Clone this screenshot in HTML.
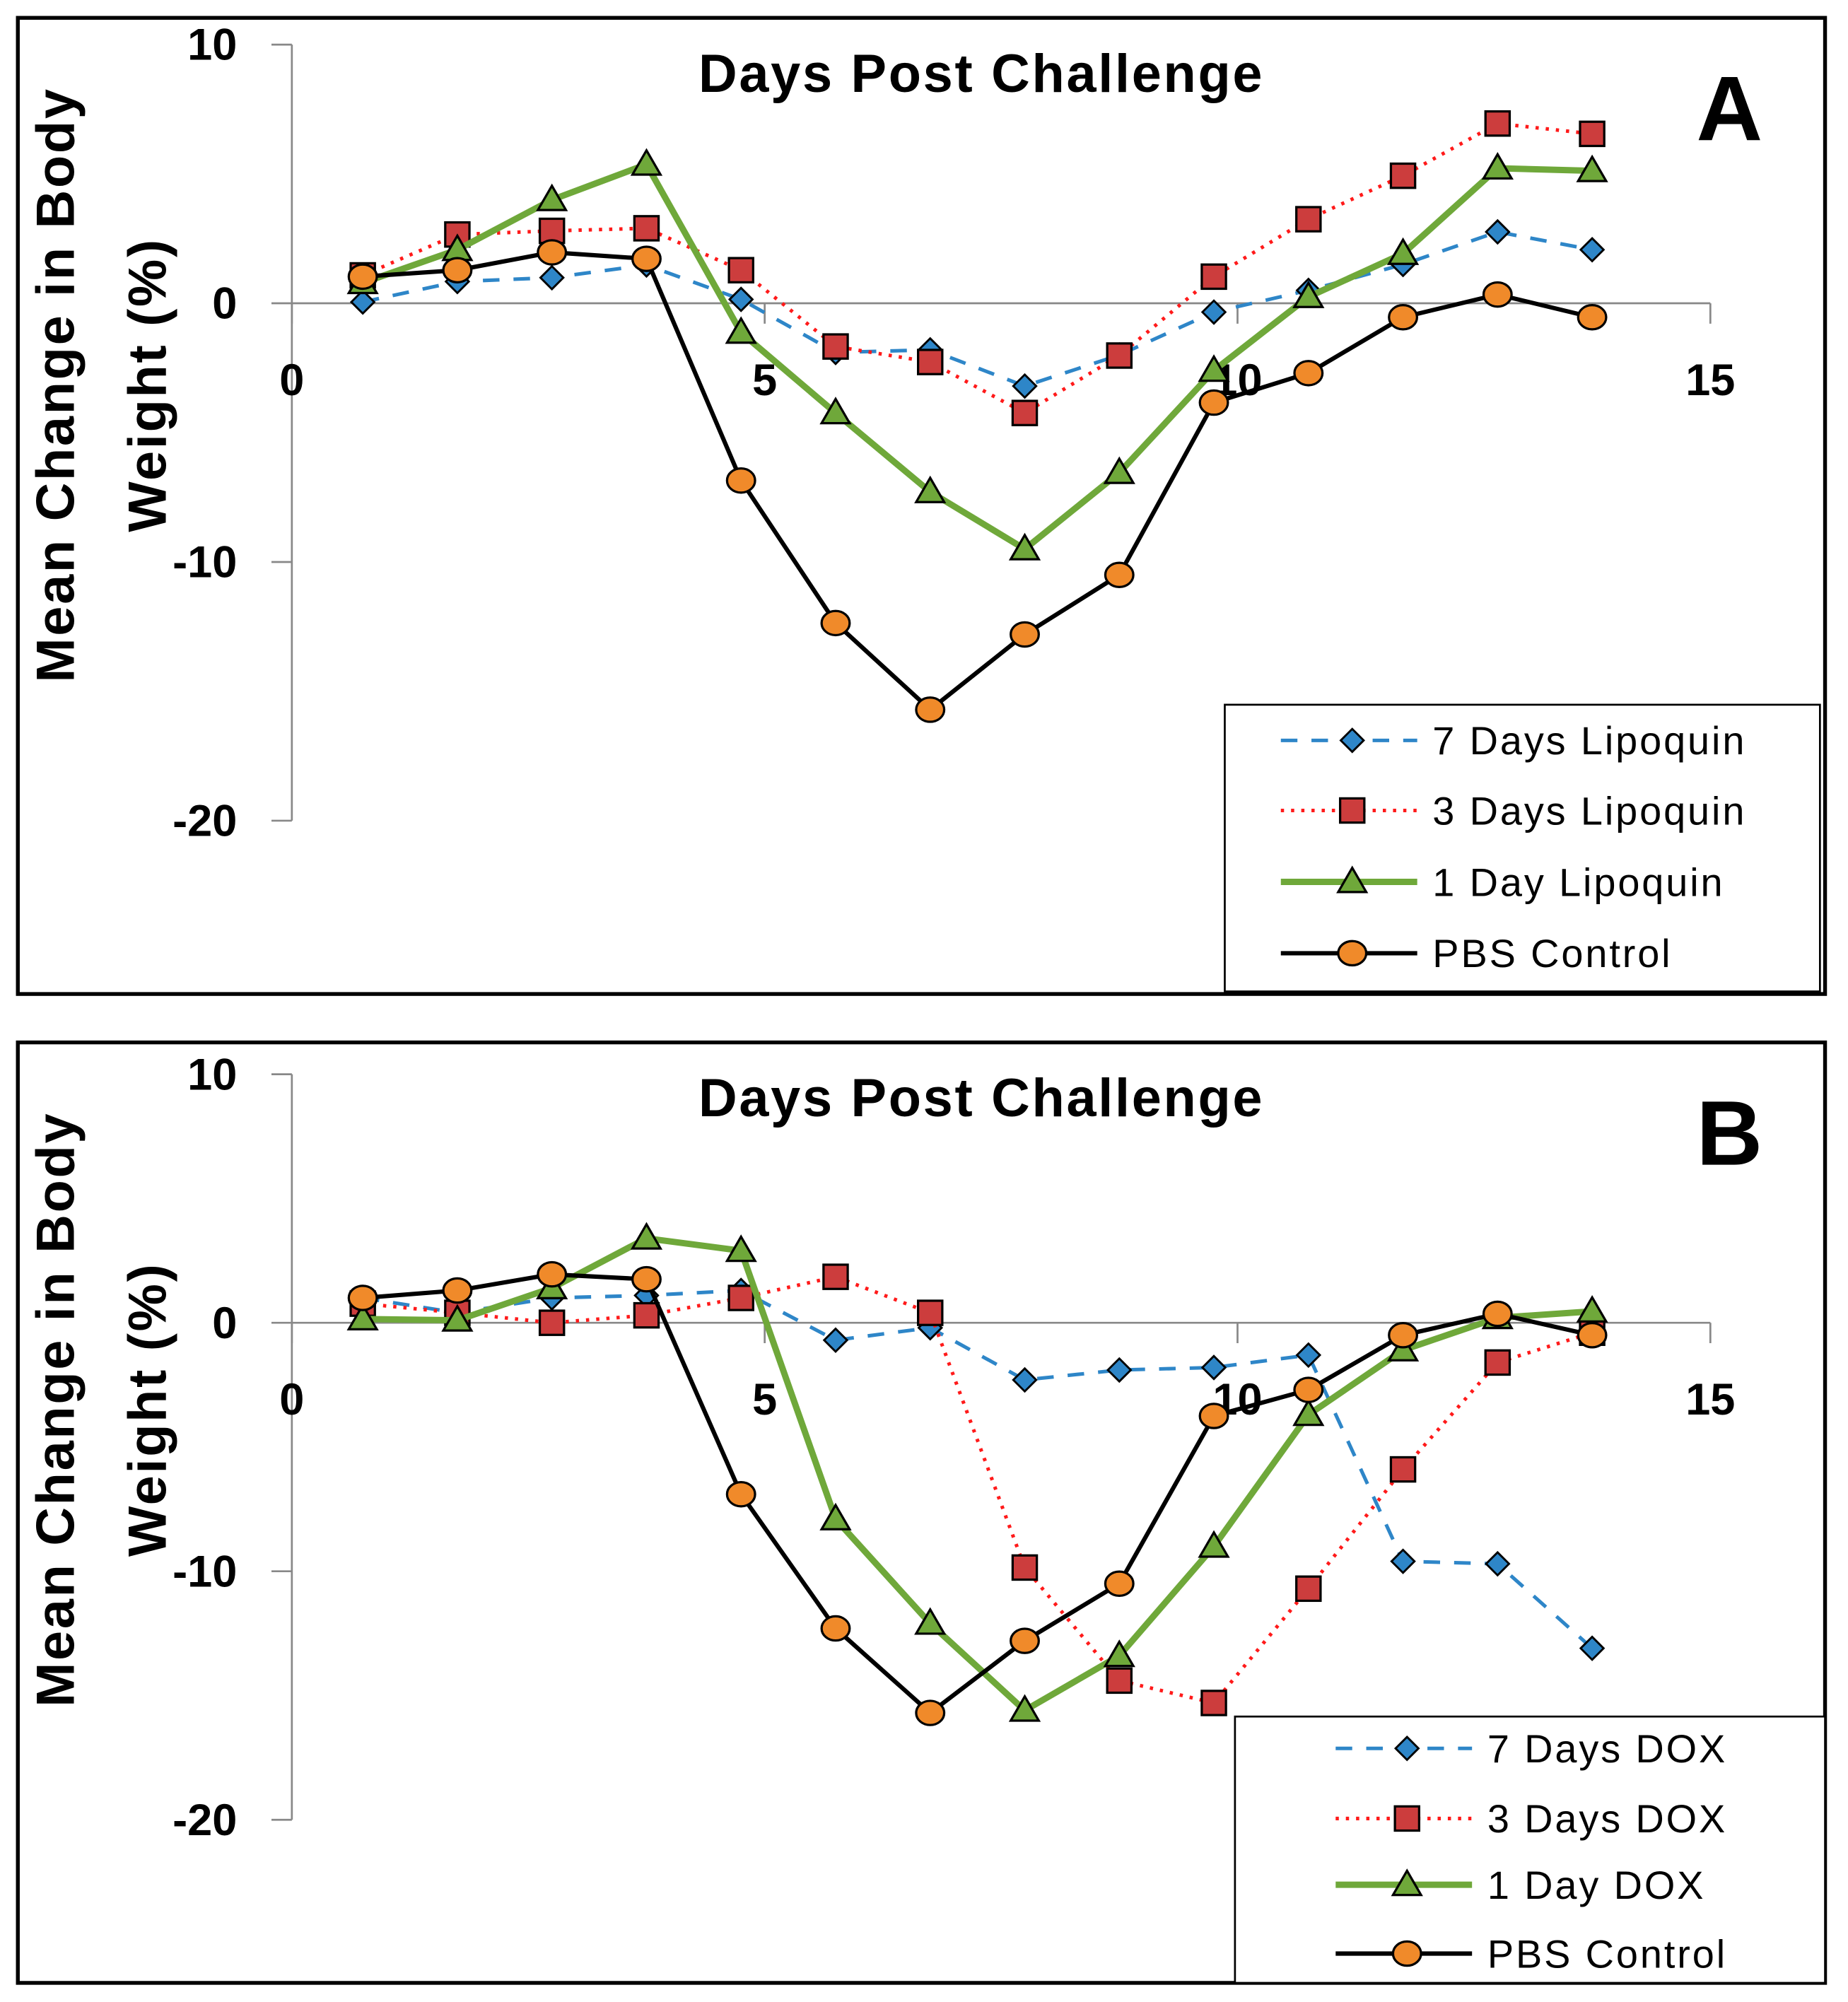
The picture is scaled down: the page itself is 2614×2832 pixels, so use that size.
<!DOCTYPE html>
<html><head><meta charset="utf-8"><style>
html,body{margin:0;padding:0;background:#fff;}
svg{display:block;}
text{font-family:"Liberation Sans",sans-serif;}
</style></head><body>
<svg id="fig" width="2614" height="2832" viewBox="0 0 1450 1571" preserveAspectRatio="none" xmlns="http://www.w3.org/2000/svg"></svg>
<script>
const days = [0.75,1.75,2.75,3.75,4.75,5.75,6.75,7.75,8.75,9.75,10.75,11.75,12.75,13.75];
const xTicks = [0,5,10,15];
const yTicks = [10,0,-10,-20];
const seriesNamesA = ["7 Days Lipoquin","3 Days Lipoquin","1 Day Lipoquin","PBS Control"];
const seriesNamesB = ["7 Days DOX","3 Days DOX","1 Day DOX","PBS Control"];
const a7 = [0.05,0.84,0.99,1.48,0.15,-1.9,-1.8,-3.2,-2.0,-0.34,0.5,1.5,2.76,2.07];
const a3 = [1.08,2.66,2.8,2.9,1.28,-1.67,-2.27,-4.24,-2.02,1.03,3.25,4.93,6.95,6.55];
const a1 = [0.79,2.07,4.0,5.37,-1.13,-4.24,-7.29,-9.5,-6.55,-2.6,0.25,1.92,5.22,5.12];
const aPbs = [1.03,1.28,1.97,1.72,-6.85,-12.36,-15.71,-12.8,-10.5,-3.84,-2.7,-0.54,0.34,-0.54];
const b7 = [1.0,0.4,1.0,1.1,1.3,-0.7,-0.2,-2.3,-1.9,-1.8,-1.3,-9.6,-9.7,-13.1];
const b3 = [0.77,0.4,0,0.3,1.0,1.85,0.4,-9.85,-14.4,-15.3,-10.7,-5.9,-1.6,-0.4];
const b1 = [0.15,0.1,1.4,3.4,2.9,-7.9,-12.1,-15.6,-13.4,-9.0,-3.7,-1.1,0.2,0.46];
const bPbs = [1.0,1.3,1.95,1.75,-6.9,-12.3,-15.7,-12.8,-10.5,-3.75,-2.7,-0.5,0.36,-0.5];

const NS="http://www.w3.org/2000/svg";
const svg=document.getElementById('fig');
function mk(tag,attrs,parent){const e=document.createElementNS(NS,tag);for(const k in attrs)e.setAttribute(k,attrs[k]);(parent||svg).appendChild(e);return e;}

const styles=[
 {stroke:"#2e86c8",w:2.8,dash:"13 11",marker:"diamond",fill:"#2e86c8"},
 {stroke:"#ff1a1a",w:2.8,dash:"2.5 5.5",marker:"square",fill:"#cc3d3d"},
 {stroke:"#6fa83a",w:5,dash:"",marker:"triangle",fill:"#6fa83a"},
 {stroke:"#000",w:3.4,dash:"",marker:"circle",fill:"#f08a2a"}
];
function marker(g,type,cx,cy,fill){
  let m;
  if(type==="diamond") m=mk('polygon',{points:`${cx},${cy-9} ${cx+9},${cy} ${cx},${cy+9} ${cx-9},${cy}`,fill:fill,stroke:"#000","stroke-width":1.6},g);
  else if(type==="square") m=mk('rect',{x:cx-9.5,y:cy-9.5,width:19,height:19,fill:fill,stroke:"#000","stroke-width":1.8},g);
  else if(type==="triangle") m=mk('polygon',{points:`${cx},${cy-11} ${cx+11},${cy+8} ${cx-11},${cy+8}`,fill:fill,stroke:"#000","stroke-width":1.8},g);
  else m=mk('ellipse',{cx:cx,cy:cy,rx:11,ry:9.5,fill:fill,stroke:"#000","stroke-width":1.8},g);
  return m;
}

function panel(cfg){
  const g=mk('g',{});
  
  
  const fr=mk('rect',{x:cfg.box[0],y:cfg.box[1],width:cfg.box[2]-cfg.box[0],height:cfg.box[3]-cfg.box[1],fill:"#fff",stroke:"#000","stroke-width":3},g);
  
  
  const x0=229, xPer=(1342-229)/15;
  const X=v=>x0+v*xPer;
  const Y=v=>cfg.y0-v*cfg.yPer;
  const ya=mk('line',{x1:x0,y1:Y(10),x2:x0,y2:Y(-20),stroke:"#888","stroke-width":1.5},g);
  
  
  yTicks.forEach(t=>{
    mk('line',{x1:x0-16,y1:Y(t),x2:x0,y2:Y(t),stroke:"#888","stroke-width":1.5},g);
    const tx=mk('text',{x:186,y:Y(t)+12,"text-anchor":"end","font-size":35,"font-weight":"bold",fill:"#000"},g);
    tx.textContent=t;
    
    
  });
  const xa=mk('line',{x1:x0,y1:Y(0),x2:X(15),y2:Y(0),stroke:"#888","stroke-width":1.5},g);
  
  
  xTicks.forEach(t=>{
    mk('line',{x1:X(t),y1:Y(0),x2:X(t),y2:Y(0)+16,stroke:"#888","stroke-width":1.5},g);
    const tx=mk('text',{x:X(t),y:Y(0)+72,"text-anchor":"middle","font-size":35,"font-weight":"bold",fill:"#000"},g);
    tx.textContent=t;
    
    
  });
  const tt=mk('text',{x:770,y:cfg.box[1]+58,"text-anchor":"middle","font-size":42,"font-weight":"bold","letter-spacing":"1.5"},g);
  tt.textContent="Days Post Challenge";
  
  
  const pl=mk('text',{x:1357,y:cfg.box[1]+96,"text-anchor":"middle","font-size":72,"font-weight":"bold"},g);
  pl.textContent=cfg.letter;
  
  
  const cy=cfg.box[1]+288;
  const yt=mk('text',{transform:`translate(58,${cy}) rotate(-90)`,"text-anchor":"middle","font-size":42,"font-weight":"bold","letter-spacing":"1.5"},g);
  yt.textContent="Mean Change in Body";
  
  
  const yt2=mk('text',{transform:`translate(130,${cy}) rotate(-90)`,"text-anchor":"middle","font-size":42,"font-weight":"bold","letter-spacing":"1.5"},g);
  yt2.textContent="Weight (%)";
  
  
  cfg.series.forEach((vals,i)=>{
    const st=styles[i];
    const sg=mk('g',{},g);
    
    
    const pts=vals.map((v,j)=>X(days[j])+','+Y(v)).join(' ');
    const line=mk('polyline',{points:pts,fill:"none",stroke:st.stroke,"stroke-width":st.w,"stroke-dasharray":st.dash,"stroke-linejoin":"round","stroke-linecap":st.dash?"butt":"round"},sg);
    
    
    vals.forEach((v,j)=>{
      const m=marker(sg,st.marker,X(days[j]),Y(v),st.fill);
      
      
    });
  });
  const L=cfg.legend;
  const lg=mk('g',{},g);
  
  
  mk('rect',{x:L.box[0],y:L.box[1],width:L.box[2]-L.box[0],height:L.box[3]-L.box[1],fill:"#fff",stroke:"#000","stroke-width":1.5},lg);
  cfg.names.forEach((n,i)=>{
    const st=styles[i];
    const ey=L.ys[i];
    const eg=mk('g',{},lg);
    
    
    mk('line',{x1:L.lx,y1:ey,x2:L.lx+107,y2:ey,stroke:st.stroke,"stroke-width":st.w,"stroke-dasharray":st.dash},eg);
    marker(eg,st.marker,L.lx+56,ey,st.fill);
    const t=mk('text',{x:L.lx+119,y:ey+11,"font-size":31,fill:"#000","letter-spacing":"1.6"},eg);
    t.textContent=n;
  });
}
panel({name:'panel-a',letter:'A',box:[14,14,1432,780],y0:238,yPer:20.3,series:[a7,a3,a1,aPbs],names:seriesNamesA,
  legend:{box:[961,553,1428,778],ys:[581,636,692,748],lx:1005}});
panel({name:'panel-b',letter:'B',box:[14,818,1432,1556],y0:1038,yPer:19.5,series:[b7,b3,b1,bPbs],names:seriesNamesB,
  legend:{box:[969,1347,1432,1556],ys:[1372,1427,1479,1533],lx:1048}});
</script>
</body></html>
